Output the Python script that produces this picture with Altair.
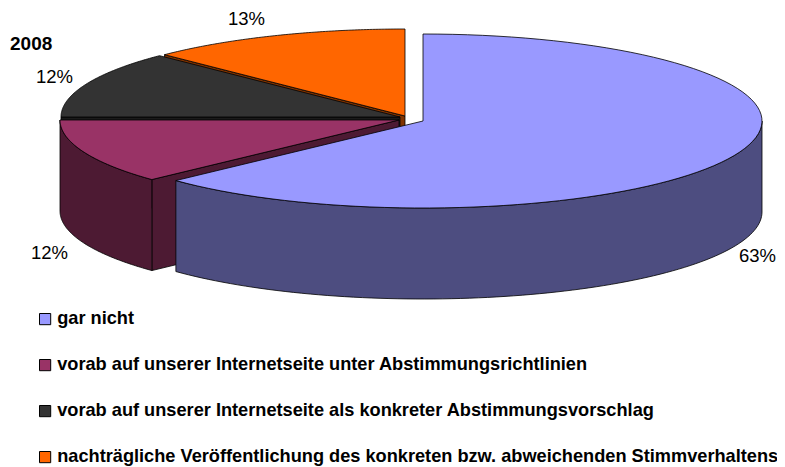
import math
import altair as alt

# values
CATEGORIES = [
    "gar nicht",
    "vorab auf unserer Internetseite unter Abstimmungsrichtlinien",
    "vorab auf unserer Internetseite als konkreter Abstimmungsvorschlag",
    "nachträgliche Veröffentlichung des konkreten bzw. abweichenden Stimmverhaltens",
]
SHARES = [63, 12, 12.45, 12.55]
TOP_COLORS = ["#9999FF", "#993366", "#333333", "#FF6600"]
SIDE_COLORS = ["#4D4D80", "#4D1A33", "#1A1A1A", "#803300"]

# pie geometry (pixels within the plot area)
CENTERS = [(415, 113), (391, 112), (392, 109), (397, 108)]
RX, RY, DEPTH = 339, 87, 91
LABEL_POS = [(731, 254), (23, 251), (28, 75), (220, 17)]


def pt(c, deg, dy=0):
    r = math.radians(deg)
    return [c[0] + RX * math.sin(r), c[1] - RY * math.cos(r) + dy]


def arc(c, a, b, dy=0, n=90):
    return [pt(c, a + (b - a) * i / n, dy) for i in range(n + 1)]


def feature(coords, part):
    return {
        "type": "Feature",
        "geometry": {"type": "Polygon", "coordinates": [coords + [coords[0]]]},
        "properties": {"part": part},
    }


def top(i, a, b):
    c = CENTERS[i]
    return feature([list(c)] + arc(c, a, b), CATEGORIES[i])


def cut(i, deg):
    c = CENTERS[i]
    p = pt(c, deg)
    q = [list(c), p, [p[0], p[1] + DEPTH], [c[0], c[1] + DEPTH]]
    return feature(q, "side %d" % i)


def rim(i, a, b):
    c = CENTERS[i]
    return feature(arc(c, a, b) + arc(c, a, b, DEPTH)[::-1], "side %d" % i)


# slice boundaries, clockwise from twelve o'clock
bounds = [0.0]
for s in SHARES:
    bounds.append(bounds[-1] + s * 3.6)

features = [
    cut(3, bounds[3]),
    top(3, bounds[3], bounds[4]),
    cut(2, bounds[2]),
    top(2, bounds[2], bounds[3]),
    cut(1, bounds[1]),
    rim(1, bounds[1], bounds[2]),
    top(1, bounds[1], bounds[2]),
    rim(0, 90, bounds[1]),
    top(0, bounds[0], bounds[1]),
]

side_keys = ["side %d" % i for i in range(4)]

pie = (
    alt.Chart(alt.Data(values=features))
    .mark_geoshape(stroke="black", strokeWidth=0.8)
    .encode(
        color=alt.Color(
            "properties.part:N",
            scale=alt.Scale(domain=CATEGORIES + side_keys, range=TOP_COLORS + SIDE_COLORS),
            legend=alt.Legend(
                values=CATEGORIES,
                title=None,
                orient="none",
                legendX=28,
                legendY=302,
                direction="vertical",
                columns=1,
                symbolType="square",
                symbolSize=125,
                symbolStrokeColor="black",
                symbolStrokeWidth=1,
                labelFont="Liberation Sans",
                labelFontWeight="bold",
                labelFontSize=18.2,
                labelColor="black",
                labelLimit=760,
                labelOffset=3,
                rowPadding=27,
            ),
        )
    )
    .project(type="identity", scale=1, translate=[0, 0])
)

label_layers = [
    alt.Chart(alt.Data(values=[{"label": "%d%%" % round(s)}]))
    .mark_text(font="Liberation Sans", fontSize=18.5, color="black", align="left", baseline="alphabetic")
    .encode(text="label:N", x=alt.value(p[0]), y=alt.value(p[1]))
    for s, p in zip(SHARES, LABEL_POS)
]

heading = (
    alt.Chart(alt.Data(values=[{"label": "2008"}]))
    .mark_text(font="Liberation Sans", fontSize=19, fontWeight="bold", color="black", align="left", baseline="alphabetic")
    .encode(text="label:N", x=alt.value(2), y=alt.value(42))
)

chart = (
    alt.layer(pie, *label_layers, heading)
    .properties(width=769, height=459, padding=0, autosize=alt.AutoSizeParams(type="none"))
    .configure_view(stroke=None)
)

chart.save("out.html", embed_options={"renderer": "svg", "actions": False})
